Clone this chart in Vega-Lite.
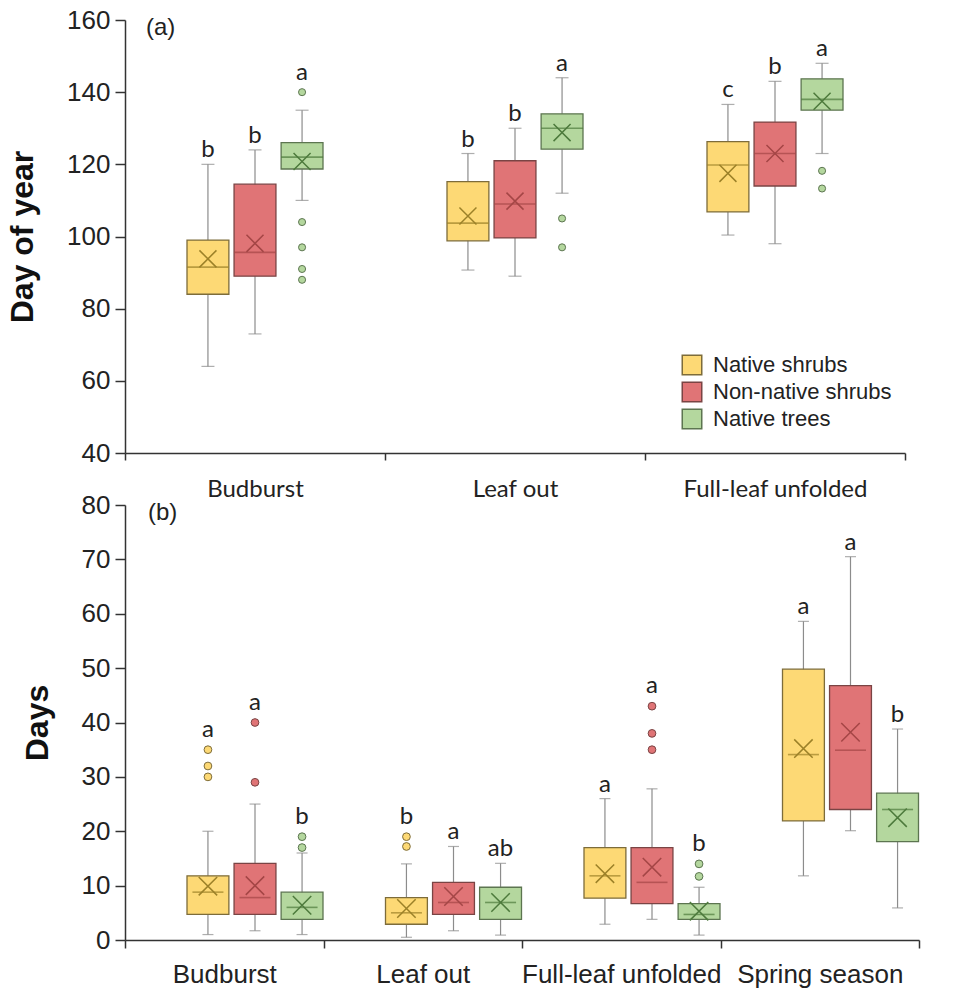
{
  "$schema": "https://vega.github.io/schema/vega-lite/v6.json",
  "padding": {"left": 6, "top": 7, "right": 5, "bottom": 5},
  "bounds": "flush",
  "spacing": 52,
  "config": {
    "font": "Liberation Sans",
    "view": {"stroke": null},
    "axis": {"grid": false, "domainColor": "#333333", "tickColor": "#333333", "domainWidth": 1.5, "tickWidth": 1.5, "labelColor": "#222222", "titleColor": "#111111", "labelLimit": 400},
    "axisY": {"titleFontSize": 32, "titleFontWeight": "bold", "titlePadding": 27, "labelFontSize": 26, "tickSize": 10, "labelPadding": 5},
    "legend": {"labelLimit": 400}
  },
  "datasets": {
    "statsA": [
      {"stage": "Budburst", "group": "Native shrubs", "lo": 64, "q1": 84, "med": 91.5, "q3": 99, "hi": 120, "mean": 93.8, "top": 120, "letter": "b"},
      {"stage": "Budburst", "group": "Non-native shrubs", "lo": 73, "q1": 89, "med": 95.6, "q3": 114.5, "hi": 124, "mean": 98.1, "top": 124, "letter": "b"},
      {"stage": "Budburst", "group": "Native trees", "lo": 110, "q1": 118.7, "med": 122, "q3": 126, "hi": 135, "mean": 120.8, "top": 140, "letter": "a"},
      {"stage": "Leaf out", "group": "Native shrubs", "lo": 90.7, "q1": 98.8, "med": 103.7, "q3": 115.2, "hi": 123, "mean": 105.7, "top": 123, "letter": "b"},
      {"stage": "Leaf out", "group": "Non-native shrubs", "lo": 89, "q1": 99.6, "med": 109, "q3": 121, "hi": 130, "mean": 109.8, "top": 130, "letter": "b"},
      {"stage": "Leaf out", "group": "Native trees", "lo": 112, "q1": 124.2, "med": 130, "q3": 134, "hi": 144, "mean": 128.8, "top": 144, "letter": "a"},
      {"stage": "Full-leaf unfolded", "group": "Native shrubs", "lo": 100.4, "q1": 106.8, "med": 119.8, "q3": 126.3, "hi": 136.6, "mean": 117.5, "top": 136.6, "letter": "c"},
      {"stage": "Full-leaf unfolded", "group": "Non-native shrubs", "lo": 98, "q1": 114, "med": 123, "q3": 131.7, "hi": 143, "mean": 123, "top": 143, "letter": "b"},
      {"stage": "Full-leaf unfolded", "group": "Native trees", "lo": 123, "q1": 135, "med": 138, "q3": 143.7, "hi": 148, "mean": 137.5, "top": 148, "letter": "a"}
    ],
    "outA": [
      {"stage": "Budburst", "group": "Native trees", "value": 140},
      {"stage": "Budburst", "group": "Native trees", "value": 104},
      {"stage": "Budburst", "group": "Native trees", "value": 97},
      {"stage": "Budburst", "group": "Native trees", "value": 91},
      {"stage": "Budburst", "group": "Native trees", "value": 88},
      {"stage": "Leaf out", "group": "Native trees", "value": 105},
      {"stage": "Leaf out", "group": "Native trees", "value": 97},
      {"stage": "Full-leaf unfolded", "group": "Native trees", "value": 118.2},
      {"stage": "Full-leaf unfolded", "group": "Native trees", "value": 113.3}
    ],
    "statsB": [
      {"stage": "Budburst", "group": "Native shrubs", "lo": 1, "q1": 4.7, "med": 8.8, "q3": 11.8, "hi": 20, "mean": 9.9, "top": 35, "letter": "a"},
      {"stage": "Budburst", "group": "Non-native shrubs", "lo": 1.7, "q1": 4.7, "med": 7.8, "q3": 14.1, "hi": 25, "mean": 10, "top": 40, "letter": "a"},
      {"stage": "Budburst", "group": "Native trees", "lo": 1, "q1": 3.8, "med": 6, "q3": 8.8, "hi": 16, "mean": 6.4, "top": 19, "letter": "b"},
      {"stage": "Leaf out", "group": "Native shrubs", "lo": 0.5, "q1": 2.9, "med": 5, "q3": 7.8, "hi": 14, "mean": 5.8, "top": 19, "letter": "b"},
      {"stage": "Leaf out", "group": "Non-native shrubs", "lo": 1.7, "q1": 4.7, "med": 6.9, "q3": 10.6, "hi": 17.2, "mean": 8, "top": 17.2, "letter": "a"},
      {"stage": "Leaf out", "group": "Native trees", "lo": 0.9, "q1": 3.8, "med": 6.9, "q3": 9.7, "hi": 14.1, "mean": 6.9, "top": 14.1, "letter": "ab"},
      {"stage": "Full-leaf unfolded", "group": "Native shrubs", "lo": 2.9, "q1": 7.7, "med": 11.8, "q3": 17, "hi": 26, "mean": 12.2, "top": 26, "letter": "a"},
      {"stage": "Full-leaf unfolded", "group": "Non-native shrubs", "lo": 3.8, "q1": 6.7, "med": 10.6, "q3": 17, "hi": 27.8, "mean": 13.4, "top": 43, "letter": "a"},
      {"stage": "Full-leaf unfolded", "group": "Native trees", "lo": 0.9, "q1": 3.8, "med": 4.7, "q3": 6.7, "hi": 9.7, "mean": 5.3, "top": 14, "letter": "b"},
      {"stage": "Spring season", "group": "Native shrubs", "lo": 11.8, "q1": 21.9, "med": 34.1, "q3": 49.8, "hi": 58.6, "mean": 35.2, "top": 58.6, "letter": "a"},
      {"stage": "Spring season", "group": "Non-native shrubs", "lo": 20.1, "q1": 24, "med": 34.9, "q3": 46.8, "hi": 70.5, "mean": 38.2, "top": 70.5, "letter": "a"},
      {"stage": "Spring season", "group": "Native trees", "lo": 5.9, "q1": 18.1, "med": 24, "q3": 27, "hi": 38.8, "mean": 22.5, "top": 38.8, "letter": "b"}
    ],
    "outB": [
      {"stage": "Budburst", "group": "Native shrubs", "value": 35},
      {"stage": "Budburst", "group": "Native shrubs", "value": 32},
      {"stage": "Budburst", "group": "Native shrubs", "value": 30},
      {"stage": "Budburst", "group": "Non-native shrubs", "value": 40},
      {"stage": "Budburst", "group": "Non-native shrubs", "value": 29},
      {"stage": "Budburst", "group": "Native trees", "value": 19},
      {"stage": "Budburst", "group": "Native trees", "value": 17},
      {"stage": "Leaf out", "group": "Native shrubs", "value": 19},
      {"stage": "Leaf out", "group": "Native shrubs", "value": 17.2},
      {"stage": "Full-leaf unfolded", "group": "Non-native shrubs", "value": 43},
      {"stage": "Full-leaf unfolded", "group": "Non-native shrubs", "value": 38},
      {"stage": "Full-leaf unfolded", "group": "Non-native shrubs", "value": 35},
      {"stage": "Full-leaf unfolded", "group": "Native trees", "value": 14},
      {"stage": "Full-leaf unfolded", "group": "Native trees", "value": 11.7}
    ]
  },
  "resolve": {"scale": {"fill": "independent", "stroke": "independent", "color": "independent"}, "legend": {"fill": "independent"}},
  "vconcat": [
    {
      "width": 780,
      "height": 433,
      "title": {"text": "(a)", "anchor": "start", "frame": "group", "orient": "top", "offset": -57, "dx": 21, "fontSize": 24, "fontWeight": "normal", "font": "Liberation Sans", "color": "#222222", "baseline": "bottom"},
      "encoding": {
        "x": {"field": "stage", "type": "nominal", "sort": ["Budburst", "Leaf out", "Full-leaf unfolded"], "scale": {"paddingInner": 0, "paddingOuter": 0},
          "axis": {"title": null, "labelAngle": 0, "labelFont": "Lato", "labelFontSize": 24, "tickBand": "extent", "tickSize": 7, "labelPadding": 17}},
        "xOffset": {"field": "group", "type": "nominal", "sort": ["Native shrubs", "Non-native shrubs", "Native trees"], "scale": {"paddingInner": 0.11, "paddingOuter": 0, "range": [62, 198]}}
      },
      "layer": [
        {
          "data": {"name": "statsA"},
          "mark": {"type": "rule", "color": "#8c8c8c", "strokeWidth": 1.2},
          "encoding": {
            "y": {"field": "lo", "type": "quantitative", "title": "Day of year", "scale": {"domain": [40, 160]}, "axis": {"values": [40, 60, 80, 100, 120, 140, 160]}},
            "y2": {"field": "hi"}
          }
        },
        {
          "data": {"name": "statsA"},
          "mark": {"type": "tick", "color": "#8c8c8c", "size": 13, "thickness": 1.2},
          "encoding": {"y": {"field": "lo", "type": "quantitative", "title": "Day of year", "scale": {"domain": [40, 160]}}}
        },
        {
          "data": {"name": "statsA"},
          "mark": {"type": "tick", "color": "#8c8c8c", "size": 13, "thickness": 1.2},
          "encoding": {"y": {"field": "hi", "type": "quantitative", "title": "Day of year", "scale": {"domain": [40, 160]}}}
        },
        {
          "data": {"name": "statsA"},
          "mark": {"type": "bar", "strokeWidth": 1.3},
          "encoding": {
            "y": {"field": "q1", "type": "quantitative", "title": "Day of year", "scale": {"domain": [40, 160]}},
            "y2": {"field": "q3"},
            "fill": {"field": "group", "type": "nominal", "scale": {"domain": ["Native shrubs", "Non-native shrubs", "Native trees"], "range": ["#FDD975", "#E07476", "#B4D79E"]},
              "legend": {"orient": "none", "legendX": 556, "legendY": 334, "title": null, "symbolType": "square", "symbolSize": 380, "symbolStrokeColor": "#333333", "symbolStrokeWidth": 1.5, "symbolOpacity": 1, "labelFont": "Liberation Sans", "labelFontSize": 22, "labelColor": "#222222", "rowPadding": 1, "labelOffset": 10, "padding": 0}},
            "stroke": {"field": "group", "type": "nominal", "scale": {"domain": ["Native shrubs", "Non-native shrubs", "Native trees"], "range": ["#7d6c3a", "#7a4444", "#5c7550"]}, "legend": null}
          }
        },
        {
          "data": {"name": "statsA"},
          "mark": {"type": "tick", "size": 42, "thickness": 1.6},
          "encoding": {
            "y": {"field": "med", "type": "quantitative", "title": "Day of year", "scale": {"domain": [40, 160]}},
            "color": {"field": "group", "type": "nominal", "scale": {"domain": ["Native shrubs", "Non-native shrubs", "Native trees"], "range": ["#9c8128", "#a44646", "#4d7a3c"]}, "legend": null}
          }
        },
        {
          "data": {"name": "statsA"},
          "mark": {"type": "point", "shape": "M-1,-1L1,1M-1,1L1,-1", "filled": false, "size": 290, "strokeWidth": 1.5, "opacity": 1},
          "encoding": {
            "y": {"field": "mean", "type": "quantitative", "title": "Day of year", "scale": {"domain": [40, 160]}},
            "color": {"field": "group", "type": "nominal", "scale": {"domain": ["Native shrubs", "Non-native shrubs", "Native trees"], "range": ["#9c8128", "#a44646", "#4d7a3c"]}, "legend": null}
          }
        },
        {
          "data": {"name": "outA"},
          "mark": {"type": "point", "shape": "circle", "filled": true, "size": 50, "strokeWidth": 1, "opacity": 1},
          "encoding": {
            "y": {"field": "value", "type": "quantitative", "title": "Day of year", "scale": {"domain": [40, 160]}},
            "fill": {"field": "group", "type": "nominal", "scale": {"domain": ["Native shrubs", "Non-native shrubs", "Native trees"], "range": ["#FDD975", "#E07476", "#B4D79E"]}},
            "stroke": {"field": "group", "type": "nominal", "scale": {"domain": ["Native shrubs", "Non-native shrubs", "Native trees"], "range": ["#7d6c3a", "#7a4444", "#5c7550"]}, "legend": null}
          }
        },
        {
          "data": {"name": "statsA"},
          "transform": [{"filter": "datum.top <= datum.hi"}],
          "mark": {"type": "text", "font": "Lato", "fontSize": 24, "color": "#222222", "baseline": "alphabetic", "dy": -7},
          "encoding": {
            "y": {"field": "top", "type": "quantitative", "title": "Day of year", "scale": {"domain": [40, 160]}},
            "text": {"field": "letter"}
          }
        },
        {
          "data": {"name": "statsA"},
          "transform": [{"filter": "datum.top > datum.hi"}],
          "mark": {"type": "text", "font": "Lato", "fontSize": 24, "color": "#222222", "baseline": "alphabetic", "dy": -12},
          "encoding": {
            "y": {"field": "top", "type": "quantitative", "title": "Day of year", "scale": {"domain": [40, 160]}},
            "text": {"field": "letter"}
          }
        }
      ]
    },
    {
      "width": 794,
      "height": 435,
      "title": {"text": "(b)", "anchor": "start", "frame": "group", "orient": "top", "offset": -57, "dx": 23, "fontSize": 24, "fontWeight": "normal", "font": "Liberation Sans", "color": "#222222", "baseline": "bottom"},
      "encoding": {
        "x": {"field": "stage", "type": "nominal", "sort": ["Budburst", "Leaf out", "Full-leaf unfolded", "Spring season"], "scale": {"paddingInner": 0, "paddingOuter": 0},
          "axis": {"title": null, "labelAngle": 0, "labelFont": "Liberation Sans", "labelFontSize": 26, "tickBand": "extent", "tickSize": 8, "labelPadding": 13}},
        "xOffset": {"field": "group", "type": "nominal", "sort": ["Native shrubs", "Non-native shrubs", "Native trees"], "scale": {"paddingInner": 0.09, "paddingOuter": 0, "range": [50, 149]}}
      },
      "layer": [
        {
          "data": {"name": "statsB"},
          "mark": {"type": "rule", "color": "#8c8c8c", "strokeWidth": 1.2},
          "encoding": {
            "y": {"field": "lo", "type": "quantitative", "title": "Days", "scale": {"domain": [0, 80]}, "axis": {"values": [0, 10, 20, 30, 40, 50, 60, 70, 80]}},
            "y2": {"field": "hi"}
          }
        },
        {
          "data": {"name": "statsB"},
          "mark": {"type": "tick", "color": "#8c8c8c", "size": 11, "thickness": 1.2},
          "encoding": {"y": {"field": "lo", "type": "quantitative", "title": "Days", "scale": {"domain": [0, 80]}}}
        },
        {
          "data": {"name": "statsB"},
          "mark": {"type": "tick", "color": "#8c8c8c", "size": 11, "thickness": 1.2},
          "encoding": {"y": {"field": "hi", "type": "quantitative", "title": "Days", "scale": {"domain": [0, 80]}}}
        },
        {
          "data": {"name": "statsB"},
          "mark": {"type": "bar", "strokeWidth": 1.3},
          "encoding": {
            "y": {"field": "q1", "type": "quantitative", "title": "Days", "scale": {"domain": [0, 80]}},
            "y2": {"field": "q3"},
            "fill": {"field": "group", "type": "nominal", "scale": {"domain": ["Native shrubs", "Non-native shrubs", "Native trees"], "range": ["#FDD975", "#E07476", "#B4D79E"]}, "legend": null},
            "stroke": {"field": "group", "type": "nominal", "scale": {"domain": ["Native shrubs", "Non-native shrubs", "Native trees"], "range": ["#7d6c3a", "#7a4444", "#5c7550"]}, "legend": null}
          }
        },
        {
          "data": {"name": "statsB"},
          "mark": {"type": "tick", "size": 31, "thickness": 1.6},
          "encoding": {
            "y": {"field": "med", "type": "quantitative", "title": "Days", "scale": {"domain": [0, 80]}},
            "color": {"field": "group", "type": "nominal", "scale": {"domain": ["Native shrubs", "Non-native shrubs", "Native trees"], "range": ["#9c8128", "#a44646", "#4d7a3c"]}, "legend": null}
          }
        },
        {
          "data": {"name": "statsB"},
          "mark": {"type": "point", "shape": "M-1,-1L1,1M-1,1L1,-1", "filled": false, "size": 340, "strokeWidth": 1.5, "opacity": 1},
          "encoding": {
            "y": {"field": "mean", "type": "quantitative", "title": "Days", "scale": {"domain": [0, 80]}},
            "color": {"field": "group", "type": "nominal", "scale": {"domain": ["Native shrubs", "Non-native shrubs", "Native trees"], "range": ["#9c8128", "#a44646", "#4d7a3c"]}, "legend": null}
          }
        },
        {
          "data": {"name": "outB"},
          "mark": {"type": "point", "shape": "circle", "filled": true, "size": 60, "strokeWidth": 1, "opacity": 1},
          "encoding": {
            "y": {"field": "value", "type": "quantitative", "title": "Days", "scale": {"domain": [0, 80]}},
            "fill": {"field": "group", "type": "nominal", "scale": {"domain": ["Native shrubs", "Non-native shrubs", "Native trees"], "range": ["#FDD975", "#E07476", "#B4D79E"]}, "legend": null},
            "stroke": {"field": "group", "type": "nominal", "scale": {"domain": ["Native shrubs", "Non-native shrubs", "Native trees"], "range": ["#7d6c3a", "#7a4444", "#5c7550"]}, "legend": null}
          }
        },
        {
          "data": {"name": "statsB"},
          "transform": [{"filter": "datum.top <= datum.hi"}],
          "mark": {"type": "text", "font": "Lato", "fontSize": 24, "color": "#222222", "baseline": "alphabetic", "dy": -7},
          "encoding": {
            "y": {"field": "top", "type": "quantitative", "title": "Days", "scale": {"domain": [0, 80]}},
            "text": {"field": "letter"}
          }
        },
        {
          "data": {"name": "statsB"},
          "transform": [{"filter": "datum.top > datum.hi"}],
          "mark": {"type": "text", "font": "Lato", "fontSize": 24, "color": "#222222", "baseline": "alphabetic", "dy": -13},
          "encoding": {
            "y": {"field": "top", "type": "quantitative", "title": "Days", "scale": {"domain": [0, 80]}},
            "text": {"field": "letter"}
          }
        }
      ]
    }
  ]
}
